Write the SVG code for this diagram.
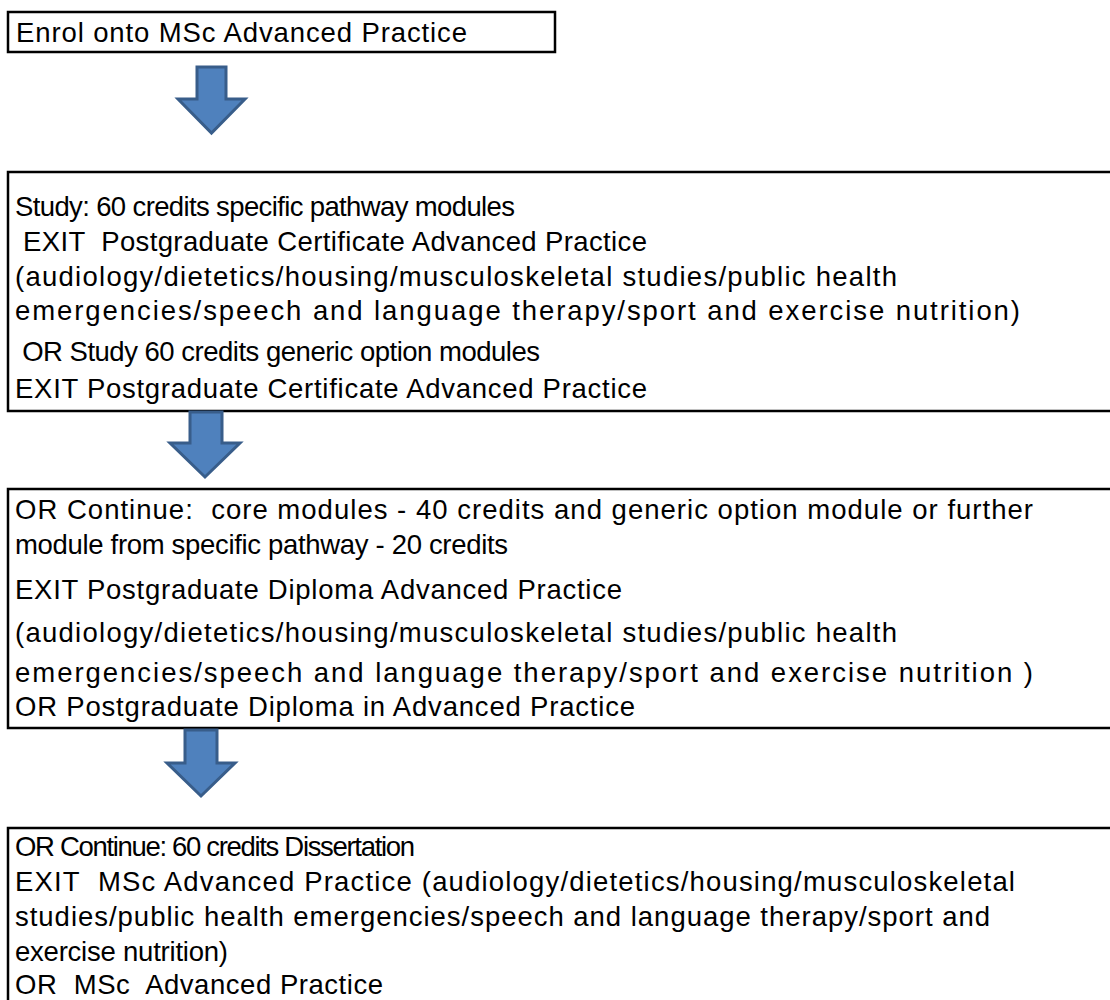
<svg xmlns="http://www.w3.org/2000/svg" width="1110" height="1000" viewBox="0 0 1110 1000" xml:space="preserve">
<defs>
<style>
.box{fill:#fff;stroke:#000;stroke-width:2.5}
.t{font-family:"Liberation Sans",Arial,sans-serif;font-size:27.5px;fill:#000;white-space:pre}
.arr{fill:#4F81BD;stroke:#385D8A;stroke-width:3;stroke-linejoin:miter}
</style>
</defs>
<rect width="1110" height="1000" fill="#fff"/>
<g id="node-enrol">
<rect class="box" x="8" y="12" width="547" height="40"/>
<text class="t" x="16" y="42" textLength="451" lengthAdjust="spacing">Enrol onto MSc Advanced Practice</text>
</g>
<g id="node-pgcert">
<rect class="box" x="8" y="172" width="1120" height="239"/>
<text class="t" x="15" y="216" textLength="500" lengthAdjust="spacing">Study: 60 credits specific pathway modules</text>
<text class="t" x="15" y="250.5" textLength="632" lengthAdjust="spacing"> EXIT  Postgraduate Certificate Advanced Practice</text>
<text class="t" x="15" y="286" textLength="882" lengthAdjust="spacing">(audiology/dietetics/housing/musculoskeletal studies/public health</text>
<text class="t" x="15" y="319.5" textLength="1005" lengthAdjust="spacing">emergencies/speech and language therapy/sport and exercise nutrition)</text>
<text class="t" x="15" y="361" textLength="525" lengthAdjust="spacing"> OR Study 60 credits generic option modules</text>
<text class="t" x="15" y="398" textLength="632" lengthAdjust="spacing">EXIT Postgraduate Certificate Advanced Practice</text>
</g>
<g id="node-pgdip">
<rect class="box" x="8" y="489" width="1120" height="239"/>
<text class="t" x="15" y="519" textLength="1018" lengthAdjust="spacing">OR Continue:  core modules - 40 credits and generic option module or further</text>
<text class="t" x="15" y="553.5" textLength="493" lengthAdjust="spacing">module from specific pathway - 20 credits</text>
<text class="t" x="15" y="599" textLength="607" lengthAdjust="spacing">EXIT Postgraduate Diploma Advanced Practice</text>
<text class="t" x="15" y="641.5" textLength="882" lengthAdjust="spacing">(audiology/dietetics/housing/musculoskeletal studies/public health</text>
<text class="t" x="15" y="682" textLength="1018" lengthAdjust="spacing">emergencies/speech and language therapy/sport and exercise nutrition )</text>
<text class="t" x="15" y="716" textLength="620" lengthAdjust="spacing">OR Postgraduate Diploma in Advanced Practice</text>
</g>
<g id="node-msc">
<rect class="box" x="8" y="828" width="1120" height="200"/>
<text class="t" x="15" y="856" textLength="400" lengthAdjust="spacing">OR Continue: 60 credits Dissertation</text>
<text class="t" x="15" y="891" textLength="1000" lengthAdjust="spacing">EXIT  MSc Advanced Practice (audiology/dietetics/housing/musculoskeletal</text>
<text class="t" x="15" y="926" textLength="975" lengthAdjust="spacing">studies/public health emergencies/speech and language therapy/sport and</text>
<text class="t" x="15" y="961" textLength="213" lengthAdjust="spacing">exercise nutrition)</text>
<text class="t" x="15" y="994" textLength="368" lengthAdjust="spacing">OR  MSc  Advanced Practice</text>
</g>
<g id="connectors">
<path class="arr" d="M197,67 H226 V99 H245 L211.5,133 L178,99 H197 Z"/>
<path class="arr" d="M190,412 H222 V443 H240 L205,477 L170,443 H190 Z"/>
<path class="arr" d="M185,730 H217 V763 H235 L201,796 L167,763 H185 Z"/>
</g>
</svg>
